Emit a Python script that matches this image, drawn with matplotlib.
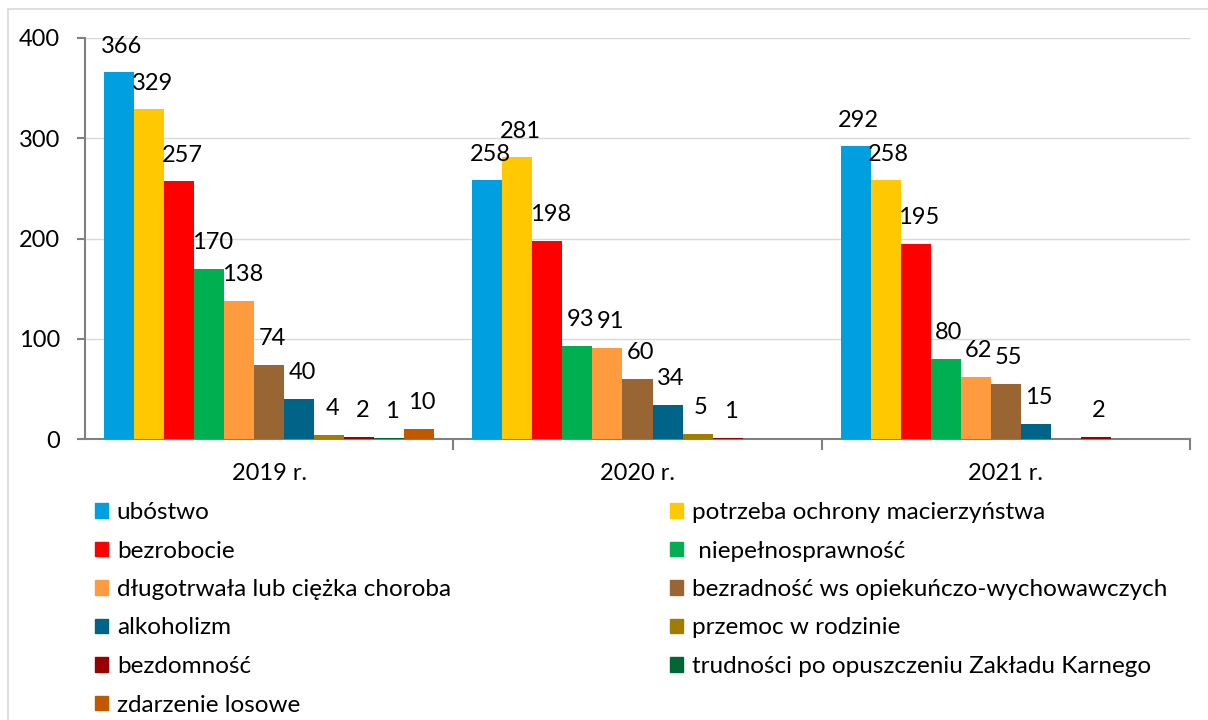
import matplotlib.pyplot as plt
import numpy as np
from matplotlib.patches import Rectangle, Patch

plt.rcParams['font.family'] = ['Lato', 'DejaVu Sans']

years = ['2019 r.', '2020 r.', '2021 r.']
categories = ['ubóstwo', 'potrzeba ochrony macierzyństwa', 'bezrobocie',
              ' niepełnosprawność', 'długotrwała lub ciężka choroba',
              'bezradność ws opiekuńczo-wychowawczych', 'alkoholizm',
              'przemoc w rodzinie', 'bezdomność',
              'trudności po opuszczeniu Zakładu Karnego', 'zdarzenie losowe']
v2019 = [366, 329, 257, 170, 138, 74, 40, 4, 2, 1, 10]
v2020 = [258, 281, 198, 93, 91, 60, 34, 5, 1, 0, 0]
v2021 = [292, 258, 195, 80, 62, 55, 15, 0, 2, 0, 0]
colors = ['#009FDF', '#FFC800', '#FF0000', '#00B050', '#FF9B3F', '#996633',
          '#006489', '#A07C00', '#990000', '#006633', '#C05800']

values = np.array([v2019, v2020, v2021])
FS = 17

fig = plt.figure(figsize=(12.08, 7.2), dpi=100)
ax = fig.add_axes([85/1208, 1-439/720, 1105/1208, 401/720])

n = len(categories)
w = 0.0815
x = np.arange(len(years))
for i in range(n):
    pos = x + (i - (n - 1) / 2) * w
    ax.bar(pos, values[:, i], w, color=colors[i], zorder=3)
    for xp, v in zip(pos, values[:, i]):
        if v > 0:
            ax.annotate(str(v), (xp, v), xytext=(3, 26), textcoords='offset pixels',
                        ha='center', va='center', fontsize=FS, color='black', zorder=4)

ax.set_xlim(-0.5, 2.5)
ax.set_ylim(0, 400)
ax.set_yticks([0, 100, 200, 300, 400])
ax.yaxis.grid(True, color='#D9D9D9', linewidth=1, zorder=0)
ax.set_xticks(x)
ax.set_xticklabels(years, fontsize=FS)
ax.tick_params(axis='x', length=0, pad=17)
ax.tick_params(axis='y', labelsize=FS, length=6, color='#808080', width=1.5, pad=12)
ax.set_xticks([0.5, 1.5, 2.5], minor=True)
ax.tick_params(axis='x', which='minor', length=8, color='#808080', width=1.5)
for s in ['top', 'right']:
    ax.spines[s].set_visible(False)
for s in ['left', 'bottom']:
    ax.spines[s].set_color('#808080')
    ax.spines[s].set_linewidth(1.5)

# legend: two columns, row-major order
left_idx = list(range(0, n, 2))
right_idx = list(range(1, n, 2))
kw = dict(frameon=False, fontsize=17.5, handlelength=0.55, handleheight=0.55,
          handletextpad=0.35, labelspacing=0.72, borderaxespad=0, borderpad=0)
leg1 = fig.legend([Patch(color=colors[i]) for i in left_idx],
                  [categories[i] for i in left_idx],
                  loc='upper left', bbox_to_anchor=(95/1208, 1-502/720), **kw)
leg2 = fig.legend([Patch(color=colors[i]) for i in right_idx],
                  [categories[i] for i in right_idx],
                  loc='upper left', bbox_to_anchor=(670/1208, 1-502/720), **kw)

fig.patches.append(Rectangle((8/1208, -0.01), 1.2, 1 - 9/720 + 0.01,
                             transform=fig.transFigure, fill=False,
                             edgecolor='#D9D9D9', linewidth=1.2))

fig.savefig('out.png', dpi=100)
